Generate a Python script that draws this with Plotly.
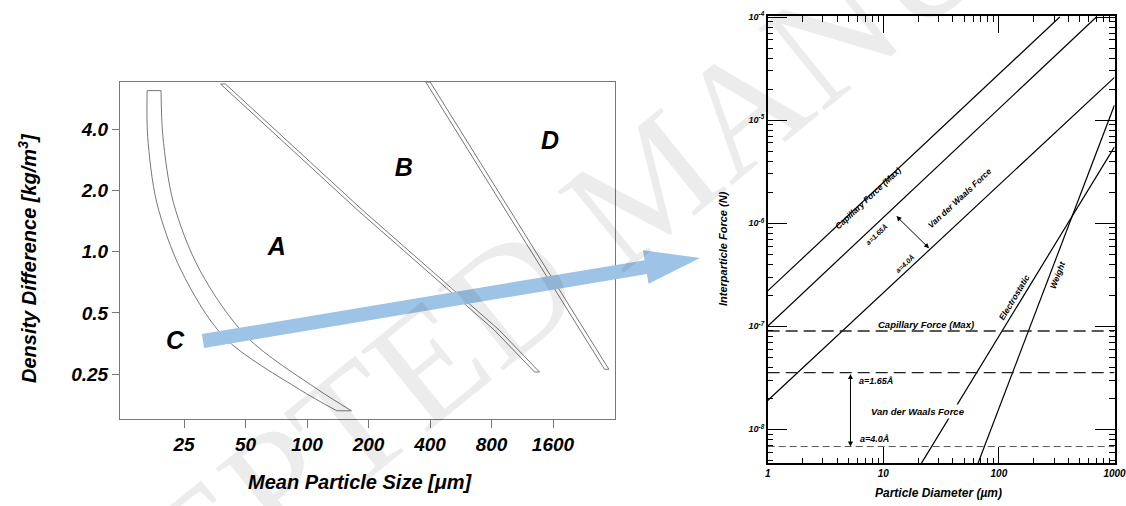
import numpy as np
import plotly.graph_objects as go

W, H = 1126, 506

# ---------------- Left chart: density difference vs mean particle size ----------------
left_xticks = [25, 50, 100, 200, 400, 800, 1600]
left_xticktext = ["25", "50", "100", "200", "400", "800", "1600"]
left_yticks = [0.25, 0.5, 1.0, 2.0, 4.0]
left_yticktext = ["0.25", "0.5", "1.0", "2.0", "4.0"]

# C / A boundary band (two edges)
ca_y = [6.2, 3.7, 1.74, 0.81, 0.38, 0.21, 0.165]
ca_x_left = [16.5, 16.6, 18.4, 24.2, 39.3, 92.0, 140.0]
ca_x_right = [19.3, 19.7, 22.2, 29.9, 50.9, 113.0, 165.0]

# A / B boundary (centre line of band)
ab_x = [38.8, 182.0, 848.0, 1336.0]
ab_y = [6.68, 1.60, 0.412, 0.256]

# B / D boundary (centre line of band)
bd_x = [391.0, 2930.0]
bd_y = [6.83, 0.264]

group_labels = ["A", "B", "C", "D"]
group_x = [71.1, 298.0, 22.6, 1547.0]
group_y = [1.03, 2.52, 0.356, 3.42]

# ---------------- Right chart: interparticle force vs particle diameter ----------------
right_xticks = [1, 10, 100, 1000]
right_xticktext = ["1", "10", "100", "1000"]
right_yticks = [1e-8, 1e-7, 1e-6, 1e-5, 1e-4]
right_yticktext = ["10<sup>-8</sup>", "10<sup>-7</sup>", "10<sup>-6</sup>", "10<sup>-5</sup>", "10<sup>-4</sup>"]

cap_d, cap_F = [1, 336], [2.2e-7, 1e-4]
vdw165_d, vdw165_F = [1, 697], [1.0e-7, 1e-4]
vdw40_d, vdw40_F = [1, 1000], [1.9e-8, 2.6e-5]
elec_d, elec_F = [21.4, 1000], [4.7e-9, 5.5e-6]
weight_d, weight_F = [66.1, 1000], [4.7e-9, 1.4e-5]
cap_const = 9.0e-8
vdw165_const = 3.55e-8
vdw40_const = 6.8e-9

GRAY = "#777777"
FONT = "Liberation Sans, Arial, sans-serif"

fig = go.Figure()

def band(xs, ys, f):
    bx = [x / f for x in xs] + [x * f for x in xs[::-1]] + [xs[0] / f]
    by = list(ys) + list(ys[::-1]) + [ys[0]]
    return bx, by

# C/A band: two smooth edges plus straight end caps
for xs in (ca_x_left, ca_x_right):
    fig.add_trace(go.Scatter(x=xs, y=ca_y, mode="lines",
                             line=dict(color=GRAY, width=1, shape="spline", smoothing=0.9),
                             xaxis="x", yaxis="y"))
for i in (0, -1):
    fig.add_trace(go.Scatter(x=[ca_x_left[i], ca_x_right[i]], y=[ca_y[i], ca_y[i]], mode="lines",
                             line=dict(color=GRAY, width=1), xaxis="x", yaxis="y"))

bx, by = band(ab_x, ab_y, 1.028)
fig.add_trace(go.Scatter(x=bx, y=by, mode="lines", fill="toself", fillcolor="white",
                         line=dict(color=GRAY, width=1), xaxis="x", yaxis="y"))
bx, by = band(bd_x, bd_y, 1.025)
fig.add_trace(go.Scatter(x=bx, y=by, mode="lines", fill="toself", fillcolor="white",
                         line=dict(color=GRAY, width=1), xaxis="x", yaxis="y"))
fig.add_trace(go.Scatter(x=group_x, y=group_y, mode="text", text=group_labels,
                         textfont=dict(family=FONT, size=25, color="black", weight="bold", style="italic"),
                         xaxis="x", yaxis="y"))

# Right chart lines
LW = 1.2
for d, F in [(cap_d, cap_F), (vdw165_d, vdw165_F), (vdw40_d, vdw40_F), (elec_d, elec_F), (weight_d, weight_F)]:
    fig.add_trace(go.Scatter(x=d, y=F, mode="lines", line=dict(color="black", width=LW),
                             xaxis="x2", yaxis="y2"))
fig.add_trace(go.Scatter(x=[1, 1000], y=[cap_const, cap_const], mode="lines",
                         line=dict(color="#222", width=1.4, dash="12px,6px"), xaxis="x2", yaxis="y2"))
fig.add_trace(go.Scatter(x=[1, 1000], y=[vdw165_const, vdw165_const], mode="lines",
                         line=dict(color="#222", width=1.4, dash="12px,6px"), xaxis="x2", yaxis="y2"))
fig.add_trace(go.Scatter(x=[1, 1000], y=[vdw40_const, vdw40_const], mode="lines",
                         line=dict(color="#555", width=1, dash="7px,4px"), xaxis="x2", yaxis="y2"))

def minor_vals(lo, hi):
    out = []
    for e in range(lo, hi):
        for m in range(2, 10):
            out.append(m * 10.0 ** e)
    return out

tick_bi = dict(family=FONT, color="black", weight="bold", style="italic")

fig.update_layout(
    width=W, height=H, autosize=False, margin=dict(l=0, r=0, t=0, b=0, autoexpand=False),
    paper_bgcolor="white", plot_bgcolor="rgba(0,0,0,0)", showlegend=False,
    xaxis=dict(type="log", range=[1.0847, 3.5051], domain=[120 / W, 614.5 / W], anchor="y",
               showline=True, linecolor=GRAY, linewidth=1, mirror=True,
               ticks="outside", ticklen=8, tickcolor=GRAY, tickvals=left_xticks, ticktext=left_xticktext,
               tickfont=dict(size=19, **tick_bi), showgrid=False, zeroline=False),
    yaxis=dict(type="log", range=[-0.8244, 0.8347], domain=[1 - 419.3 / H, 1 - 82 / H], anchor="x",
               showline=True, linecolor=GRAY, linewidth=1, mirror=True,
               ticks="outside", ticklen=7, tickcolor=GRAY, tickvals=left_yticks, ticktext=left_yticktext,
               tickfont=dict(size=19, **tick_bi), showgrid=False, zeroline=False),
    xaxis2=dict(type="log", range=[0, 3], domain=[767.7 / W, 1114.5 / W], anchor="y2",
                showline=True, linecolor="black", linewidth=1.5, mirror="ticks",
                ticks="inside", ticklen=17, tickwidth=1.2, tickcolor="black",
                tickvals=right_xticks, ticktext=right_xticktext, ticklabeloverflow="allow",
                tickfont=dict(size=10, **tick_bi), showgrid=False, zeroline=False,
                minor=dict(tickvals=minor_vals(0, 3), ticks="inside", ticklen=6, tickcolor="black",
                           tickwidth=1, showgrid=False)),
    yaxis2=dict(type="log", range=[-8.33, -3.99], domain=[1 - 463.3 / H, 1 - 16 / H], anchor="x2",
                showline=True, linecolor="black", linewidth=1.5, mirror="ticks",
                ticks="inside", ticklen=20, tickwidth=1.2, tickcolor="black",
                tickvals=right_yticks, ticktext=right_yticktext, ticklabeloverflow="allow",
                tickfont=dict(size=9, **tick_bi), showgrid=False, zeroline=False,
                minor=dict(tickvals=minor_vals(-9, -4), ticks="inside", ticklen=6, tickcolor="black",
                           tickwidth=1, showgrid=False)),
)

ann = []
def px_ann(text, px, py, size, angle=0, bold=True, italic=True, color="black", family=FONT, **kw):
    f = dict(family=family, size=size, color=color)
    if bold:
        f["weight"] = "bold"
    if italic:
        f["style"] = "italic"
    ann.append(dict(text=text, x=px / W, y=1 - py / H, xref="paper", yref="paper",
                    showarrow=False, textangle=angle, font=f, xanchor="center", yanchor="middle", **kw))

# axis titles
px_ann("Density Difference [kg/m<sup>3</sup>]", 27, 258, 20, angle=-90)
px_ann("Mean Particle Size [μm]", 360, 482, 20)
px_ann("Interparticle Force (N)", 723, 249, 11, angle=-90)
px_ann("Particle Diameter (µm)", 938, 493, 12, italic=True)

def d_ann(text, d, F, size, angle=0, **kw):
    ann.append(dict(text=text, x=np.log10(d), y=np.log10(F), xref="x2", yref="y2",
                    showarrow=False, textangle=angle,
                    font=dict(family=FONT, size=size, color="black", weight="bold", style="italic"), **kw))

d_ann("Capillary Force (Max)", 7.41, 1.75e-6, 8.5, angle=-43)
d_ann("Van der Waals Force", 45.9, 1.75e-6, 8.5, angle=-43)
d_ann("a=1.65Å", 8.75, 7.83e-7, 7, angle=-43)
d_ann("a=4.0Å", 15.4, 4.11e-7, 7, angle=-43)
d_ann("Electrostatic", 137, 1.9e-7, 8.5, angle=-59)
d_ann("Weight", 321, 3.15e-7, 8.5, angle=-69)
d_ann("Capillary Force (Max)", 23.2, 1.04e-7, 9.5)
d_ann("a=1.65Å", 8.72, 2.93e-8, 9)
d_ann("Van der Waals Force", 20.0, 1.5e-8, 9.5, bgcolor="white")
d_ann("a=4.0Å", 8.34, 8.1e-9, 9)

# two-headed arrows
for (d1, F1, d2, F2) in [(5.2, vdw165_const, 5.2, vdw40_const), (12.6, 1.21e-6, 24.9, 5.7e-7)]:
    ann.append(dict(text="", x=np.log10(d2), y=np.log10(F2), ax=np.log10(d1), ay=np.log10(F1),
                    xref="x2", yref="y2", axref="x2", ayref="y2", showarrow=True,
                    arrowhead=2, arrowside="end+start", arrowsize=1, arrowwidth=1,
                    arrowcolor="black", standoff=0, startstandoff=0))

# watermark
px_ann("ACCEPTED MANUSCRIPT", 650, 182, 160, angle=-39, bold=False, italic=False,
       color="rgba(0,0,0,0.075)", family="Liberation Serif, Times New Roman, serif")

fig.update_layout(annotations=ann)

# blue connector arrow (decoration), drawn in pixel space
tail = np.array([203.0, 341.0]); tip = np.array([700.0, 258.0])
u = (tip - tail) / np.linalg.norm(tip - tail)
n = np.array([-u[1], u[0]])
base = tip - u * 55
pts = [tail - n * 7, base - n * 7, base - n * 17, tip, base + n * 17, base + n * 7, tail + n * 7]
path = "M " + " L ".join(f"{p[0] / W:.5f},{1 - p[1] / H:.5f}" for p in pts) + " Z"
fig.add_shape(type="path", path=path, xref="paper", yref="paper",
              fillcolor="#9dc3e6", line=dict(width=0), layer="above")

post = ("document.documentElement.style.overflow='hidden';"
        "document.body.style.overflow='hidden';"
        "document.body.style.margin='0';"
        "var gd=document.getElementById('{plot_id}');"
        "gd.style.width='1126px';gd.style.height='506px';gd.style.overflow='hidden';"
        "Plotly.relayout(gd,{width:1126,height:506,autosize:false});")
fig.write_html("out.html", config={"displayModeBar": False, "responsive": False}, post_script=post)
